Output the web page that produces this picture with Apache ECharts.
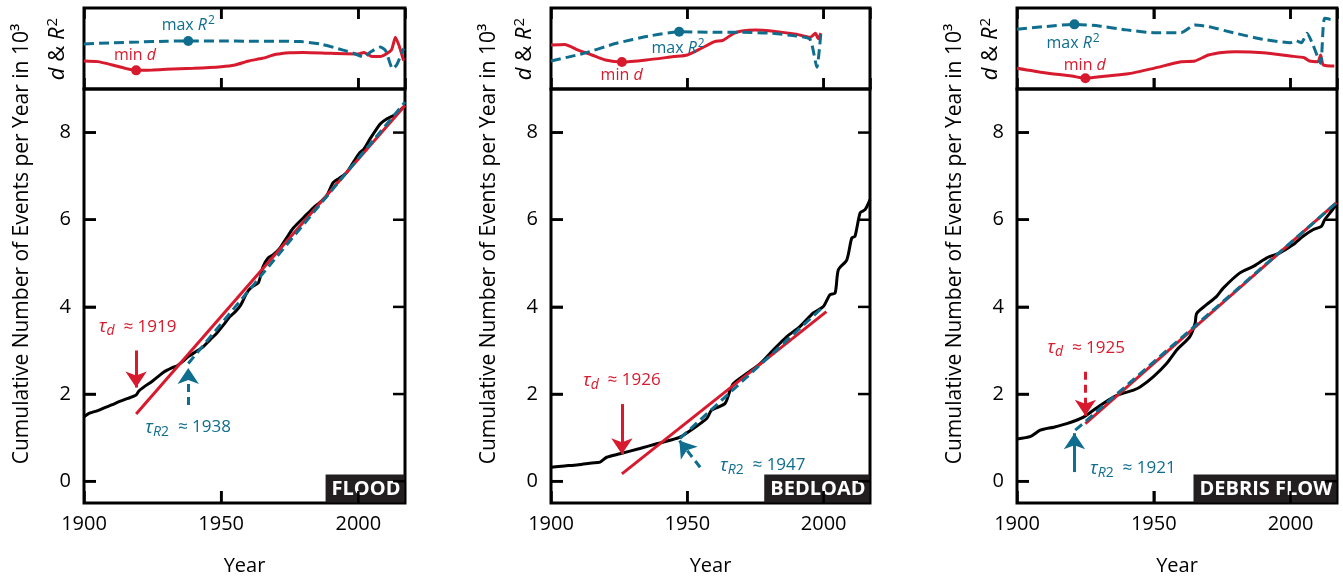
<!DOCTYPE html>
<html>
<head>
<meta charset="utf-8">
<script src="https://cdn.jsdelivr.net/npm/echarts@6/dist/echarts.min.js"></script>
<style>
  html, body { margin: 0; padding: 0; background: #fff; }
  #chart { width: 1343px; height: 578px; }
</style>
</head>
<body>
<div id="chart"></div>
<script>
var RED = '#d71a2d'
var BLUE = '#0f6d8e'
var FONT = 'Open Sans'

var yearMin = 1900
var yearMax = 2017
var xTickYears = [1950, 2000]
var yTicks = [0, 2, 4, 6, 8]
var panelNames = ['FLOOD', 'BEDLOAD', 'DEBRIS FLOW']

// cumulative number of events (10^3)
var floodYears = [1900, 1902, 1905, 1908, 1910, 1913, 1916, 1919, 1920, 1922, 1925, 1929, 1932, 1934, 1936, 1938, 1941, 1943.5, 1946, 1948.3, 1951, 1953.2, 1955, 1956.8, 1958, 1959.3, 1961, 1963.5, 1964.5, 1965.3, 1967.1, 1969, 1971.4, 1973.8, 1976.3, 1979.9, 1983.5, 1986, 1988.4, 1990.8, 1993, 1995.7, 1998, 2000.5, 2002, 2004.2, 2006.6, 2008, 2010.3, 2013, 2015, 2017]
var floodCum = [1.48, 1.56, 1.62, 1.70, 1.75, 1.83, 1.90, 1.98, 2.07, 2.17, 2.30, 2.50, 2.60, 2.65, 2.75, 2.86, 2.98, 3.09, 3.25, 3.39, 3.60, 3.78, 3.88, 4.01, 4.15, 4.32, 4.45, 4.55, 4.75, 4.93, 5.12, 5.20, 5.35, 5.58, 5.81, 6.04, 6.27, 6.40, 6.54, 6.85, 6.95, 7.08, 7.30, 7.54, 7.62, 7.85, 8.08, 8.20, 8.31, 8.40, 8.50, 8.62]

var bedloadYears = [1900, 1905, 1910, 1915, 1918, 1920.4, 1925.3, 1932.6, 1938.8, 1943.7, 1947.3, 1952.2, 1957.1, 1958.9, 1963.8, 1965.7, 1966.9, 1971.8, 1976.7, 1981.5, 1986.5, 1991.3, 1996.2, 1999.9, 2002.3, 2004.2, 2005.4, 2008.5, 2010.3, 2011.5, 2013.4, 2015.2, 2017]
var bedloadCum = [0.32, 0.35, 0.38, 0.42, 0.44, 0.55, 0.63, 0.75, 0.86, 0.94, 1.01, 1.21, 1.44, 1.63, 1.78, 2.09, 2.24, 2.47, 2.70, 3.01, 3.32, 3.55, 3.86, 4.01, 4.28, 4.32, 4.85, 5.08, 5.58, 5.62, 6.16, 6.23, 6.46]

var debrisYears = [1900, 1905, 1908.5, 1913.4, 1918.2, 1924.3, 1930.4, 1936.5, 1942.6, 1945, 1949.9, 1954.7, 1958.4, 1963.2, 1965.1, 1965.7, 1969.3, 1973, 1975.4, 1981.5, 1986.4, 1991.2, 1996.1, 2001, 2004.6, 2008.2, 2011.3, 2012.5, 2015, 2016.8]
var debrisCum = [0.97, 1.03, 1.17, 1.24, 1.32, 1.47, 1.74, 1.97, 2.09, 2.16, 2.40, 2.70, 3.01, 3.32, 3.62, 3.85, 4.05, 4.24, 4.43, 4.78, 4.93, 5.12, 5.24, 5.43, 5.62, 5.77, 5.85, 6.00, 6.20, 6.35]

// fitted lines [start, end]
var floodFitD = [[1919, 1.54], [2017, 8.62]]
var floodFitR2 = [[1938, 2.70], [2017, 8.70]]
var bedloadFitD = [[1926, 0.17], [2001, 3.89]]
var bedloadFitR2 = [[1947.3, 0.98], [2000, 4.01]]
var debrisFitD = [[1925, 1.32], [2016.8, 6.39]]
var debrisFitR2 = [[1921.3, 1.17], [2016.8, 6.39]]

// change points
var tauD = [1919, 1926, 1925]
var tauR2 = [1938, 1947, 1921]

// d and R^2 (relative scale)
var floodDYears = [1900, 1905, 1910, 1915, 1919, 1925, 1930, 1940, 1950, 1955, 1960, 1965, 1970, 1975, 1980, 1990, 2000, 2002, 2005, 2008, 2012, 2013.5, 2015, 2016.5]
var floodD = [0.346, 0.338, 0.30, 0.255, 0.23, 0.235, 0.243, 0.255, 0.275, 0.296, 0.346, 0.379, 0.428, 0.448, 0.452, 0.44, 0.432, 0.45, 0.40, 0.40, 0.48, 0.64, 0.52, 0.35]
var floodR2Years = [1900, 1910, 1920, 1930, 1938, 1950, 1960, 1970, 1979, 1986, 1994.5, 1998, 2002, 2004.4, 2008, 2010, 2012.5, 2014, 2016.5]
var floodR2 = [0.556, 0.57, 0.58, 0.59, 0.593, 0.593, 0.59, 0.59, 0.585, 0.556, 0.48, 0.444, 0.395, 0.457, 0.518, 0.47, 0.25, 0.30, 0.50]

var bedloadDYears = [1900, 1905, 1910, 1915, 1920, 1926, 1935, 1945, 1950, 1955, 1960, 1963, 1967, 1970, 1975, 1980, 1990, 1995, 1997, 1998, 1999]
var bedloadD = [0.543, 0.55, 0.48, 0.42, 0.358, 0.333, 0.358, 0.40, 0.42, 0.50, 0.584, 0.60, 0.687, 0.716, 0.728, 0.72, 0.675, 0.638, 0.687, 0.62, 0.69]
var bedloadR2Years = [1900, 1912, 1924, 1936, 1947, 1960, 1970, 1980, 1990, 1995, 1997.5, 1999]
var bedloadR2 = [0.346, 0.44, 0.564, 0.654, 0.707, 0.70, 0.70, 0.69, 0.654, 0.613, 0.27, 0.70]

var debrisDYears = [1900, 1910, 1920, 1925, 1930, 1940, 1950, 1960, 1965, 1970, 1975, 1980, 1990, 2000, 2005, 2007, 2010, 2011, 2012, 2016]
var debrisD = [0.255, 0.20, 0.16, 0.132, 0.152, 0.185, 0.255, 0.337, 0.345, 0.42, 0.452, 0.46, 0.448, 0.407, 0.386, 0.345, 0.337, 0.42, 0.296, 0.284]
var debrisR2Years = [1900, 1910, 1921, 1930, 1940, 1950, 1960, 1965, 1970, 1980, 1990, 2000, 2002, 2004, 2006, 2008, 2011, 2012.5, 2016]
var debrisR2 = [0.737, 0.77, 0.798, 0.778, 0.73, 0.695, 0.695, 0.79, 0.77, 0.687, 0.613, 0.572, 0.597, 0.572, 0.687, 0.564, 0.317, 0.872, 0.85]

function zip(xs, ys) {
  return xs.map(function (x, i) { return [x, ys[i]] })
}
function valueAt(xs, ys, x) {
  for (var i = 0; i < xs.length; i++) if (xs[i] === x) return ys[i]
  return ys[0]
}

var panels = [
  { left: 84, width: 321, years: floodYears, cum: floodCum, fitD: floodFitD, fitR2: floodFitR2,
    dYears: floodDYears, d: floodD, r2Years: floodR2Years, r2: floodR2,
    arrowD: [[tauD[0], 3.0], [tauD[0], 2.15]], arrowR2: [[tauR2[0], 1.75], [tauR2[0], 2.6]],
    dashD: false, dashR2: true,
    labD: [1919.5, 3.54], labR2: [1937.9, 1.24], labMax: [1938, 0.79], labMin: [1918.6, 0.42] },
  { left: 551, width: 319, years: bedloadYears, cum: bedloadCum, fitD: bedloadFitD, fitR2: bedloadFitR2,
    dYears: bedloadDYears, d: bedloadD, r2Years: bedloadR2Years, r2: bedloadR2,
    arrowD: [[tauD[1], 1.77], [tauD[1], 0.62]], arrowR2: [[1954.7, 0.32], [tauR2[1] + 0.1, 0.93]],
    dashD: false, dashR2: true,
    labD: [1925.9, 2.32], labR2: [1977.6, 0.36], labMax: [1946.6, 0.506], labMin: [1925.9, 0.173] },
  { left: 1017, width: 320, years: debrisYears, cum: debrisCum, fitD: debrisFitD, fitR2: debrisFitR2,
    dYears: debrisDYears, d: debrisD, r2Years: debrisR2Years, r2: debrisR2,
    arrowD: [[tauD[2], 2.51], [tauD[2], 1.5]], arrowR2: [[tauR2[2], 0.21], [tauR2[2], 1.1]],
    dashD: true, dashR2: false,
    labD: [1925.2, 3.06], labR2: [1942.3, 0.29], labMax: [1920.5, 0.568], labMin: [1924.8, 0.296] }
]

var TOP_H = 81, MAIN_H = 414
var grids = [], xAxes = [], yAxes = [], series = [], graphics = []

var richMain = function (color) {
  return {
    t: { fontSize: 19, fontStyle: 'italic', fontFamily: FONT, color: color },
    s: { fontSize: 14, fontStyle: 'italic', fontFamily: FONT, color: color, padding: [9, 0, 0, 0] },
    s2: { fontSize: 14, fontFamily: FONT, color: color, padding: [9, 0, 0, 0] },
    n: { fontSize: 17, fontFamily: FONT, color: color }
  }
}
var richTop = function (color) {
  return {
    n: { fontSize: 16, fontFamily: FONT, color: color },
    i: { fontSize: 16, fontStyle: 'italic', fontFamily: FONT, color: color },
    sup: { fontSize: 12, fontFamily: FONT, color: color, padding: [0, 0, 9, 1] }
  }
}

function textPoint(pos, text, rich) {
  return {
    value: pos,
    label: { show: true, position: 'inside', formatter: text, rich: rich }
  }
}

function tick(len) {
  return { show: true, inside: true, length: len, lineStyle: { color: '#000', width: 2.5 } }
}

panels.forEach(function (p, i) {
  var gridBase = { left: p.left, width: p.width, show: true, borderColor: '#000', borderWidth: 3,
    backgroundColor: 'transparent', outerBoundsMode: 'none' }
  grids.push(Object.assign({}, gridBase, { top: 8, height: TOP_H }))
  grids.push(Object.assign({}, gridBase, { top: 89, height: MAIN_H }))

  var gTop = 2 * i, gMain = 2 * i + 1
  function xAxis(extra) {
    return Object.assign({ type: 'value', min: yearMin, max: yearMax, interval: 50,
      splitLine: { show: false }, axisLine: { show: false, onZero: false } }, extra)
  }
  xAxes.push(xAxis({ gridIndex: gTop, position: 'bottom', axisTick: tick(11), axisLabel: { show: false } }))
  xAxes.push(xAxis({ gridIndex: gTop, position: 'top', axisTick: tick(11), axisLabel: { show: false } }))
  xAxes.push(xAxis({
    gridIndex: gMain, position: 'bottom',
    axisTick: tick(12),
    axisLabel: { fontSize: 20, fontFamily: FONT, color: '#000', margin: 11, showMaxLabel: false,
      formatter: function (v) { return String(v) } },
    name: 'Year', nameLocation: 'middle', nameGap: 53,
    nameTextStyle: { fontSize: 20, fontFamily: FONT, color: '#000' }
  }))

  yAxes.push({ gridIndex: gTop, type: 'value', min: 0, max: 1, show: false })
  function yAxis(extra) {
    return Object.assign({ gridIndex: gMain, type: 'value', min: -0.5, max: 9,
      splitLine: { show: false }, axisLine: { show: false, onZero: false } }, extra)
  }
  var leftTick = tick(12)
  leftTick.customValues = yTicks
  yAxes.push(yAxis({
    position: 'left', axisTick: leftTick,
    axisLabel: { fontSize: 20, fontFamily: FONT, color: '#000', margin: 13, customValues: yTicks }
  }))
  yAxes.push(yAxis({ position: 'right', axisTick: { show: false }, axisLabel: { show: false } }))

  var xTop = 3 * i, xMain = 3 * i + 2, yTop = 3 * i, yMain = 3 * i + 1

  // top panel: d and R^2
  series.push({ type: 'line', xAxisIndex: xTop, yAxisIndex: yTop, data: zip(p.dYears, p.d), showSymbol: false, smooth: 0.2,
    lineStyle: { color: RED, width: 3 }, z: 3 })
  series.push({ type: 'line', xAxisIndex: xTop, yAxisIndex: yTop, data: zip(p.r2Years, p.r2), showSymbol: false, smooth: 0.2,
    lineStyle: { color: BLUE, width: 3, type: [10, 5] }, z: 3 })
  series.push({ type: 'scatter', xAxisIndex: xTop, yAxisIndex: yTop, symbolSize: 10, z: 5,
    data: [
      { value: [tauD[i], valueAt(p.dYears, p.d, tauD[i])], itemStyle: { color: RED, opacity: 1 } },
      { value: [tauR2[i], valueAt(p.r2Years, p.r2, tauR2[i])], itemStyle: { color: BLUE, opacity: 1 } }
    ] })
  series.push({ type: 'scatter', xAxisIndex: xTop, yAxisIndex: yTop, symbolSize: 1, itemStyle: { color: 'transparent', opacity: 1 }, z: 6,
    data: [
      textPoint(p.labMax, '{n|max }{i|R}{sup|2}', richTop(BLUE)),
      textPoint(p.labMin, '{n|min }{i|d}', richTop(RED))
    ] })

  // main panel
  series.push({ type: 'line', xAxisIndex: xMain, yAxisIndex: yMain, data: zip(p.years, p.cum), showSymbol: false, smooth: 0.25,
    lineStyle: { color: '#000', width: 3 }, z: 2 })
  series.push({ type: 'line', xAxisIndex: xMain, yAxisIndex: yMain, data: p.fitD, showSymbol: false,
    lineStyle: { color: RED, width: 3 }, z: 3,
    markLine: { silent: true, symbol: ['none', 'arrow'], symbolSize: 16, label: { show: false },
      lineStyle: { color: RED, width: 3, type: p.dashD ? [8, 5] : 'solid' },
      data: [[{ coord: p.arrowD[0] }, { coord: p.arrowD[1] }]] } })
  series.push({ type: 'line', xAxisIndex: xMain, yAxisIndex: yMain, data: p.fitR2, showSymbol: false,
    lineStyle: { color: BLUE, width: 3, type: [9, 5] }, z: 4,
    markLine: { silent: true, symbol: ['none', 'arrow'], symbolSize: 16, label: { show: false },
      lineStyle: { color: BLUE, width: 3, type: p.dashR2 ? [8, 5] : 'solid' },
      data: [[{ coord: p.arrowR2[0] }, { coord: p.arrowR2[1] }]] } })
  series.push({ type: 'scatter', xAxisIndex: xMain, yAxisIndex: yMain, symbolSize: 1, itemStyle: { color: 'transparent', opacity: 1 }, z: 6, clip: false,
    data: [
      textPoint(p.labD, '{t|τ}{s|d}{n|  ≈ ' + tauD[i] + '}', richMain(RED)),
      textPoint(p.labR2, '{t|τ}{s|R}{s2|2}{n|  ≈ ' + tauR2[i] + '}', richMain(BLUE)),
      {
        value: [yearMax, -0.5],
        label: { show: true, position: [0, 0], align: 'right', verticalAlign: 'bottom', formatter: panelNames[i],
          backgroundColor: '#231f20', color: '#fff', fontWeight: 'bold', fontSize: 20, fontFamily: FONT, padding: [5, 4, 3, 6] }
      }
    ] })

  graphics.push({ type: 'text', x: p.left - 62, y: 244, rotation: Math.PI / 2,
    style: { text: 'Cumulative Number of Events per Year in 10³', fontSize: 21, fontFamily: FONT, fill: '#000', align: 'center', verticalAlign: 'middle' } })
  graphics.push({ type: 'text', x: p.left - 26, y: 49, rotation: Math.PI / 2,
    style: { text: '{i|d}{n| & }{i|R}{sup|2}', align: 'center', verticalAlign: 'middle',
      rich: {
        i: { fontSize: 22, fontStyle: 'italic', fontFamily: FONT, fill: '#000' },
        n: { fontSize: 22, fontFamily: FONT, fill: '#000' },
        sup: { fontSize: 15, fontFamily: FONT, fill: '#000', padding: [0, 0, 11, 1] }
      } } })
})

var chart = echarts.init(document.getElementById('chart'))
chart.setOption({
  animation: false,
  backgroundColor: '#fff',
  grid: grids,
  xAxis: xAxes,
  yAxis: yAxes,
  series: series,
  graphic: graphics
})

// inward tick marks placed through the axes' own scales
function tickLine(a, b) {
  return { type: 'line', silent: true, z: 100,
    shape: { x1: a[0], y1: a[1], x2: b[0], y2: b[1] },
    style: { stroke: '#000', lineWidth: 2.5 } }
}
var tickGraphics = []
panels.forEach(function (p, i) {
  var gTop = { gridIndex: 2 * i }, gMain = { gridIndex: 2 * i + 1 }
  xTickYears.forEach(function (x) {
    var t = chart.convertToPixel(gTop, [x, 1])
    var b = chart.convertToPixel(gTop, [x, 0])
    var m = chart.convertToPixel(gMain, [x, -0.5])
    tickGraphics.push(tickLine(t, [t[0], t[1] + 11]))
    tickGraphics.push(tickLine(b, [b[0], b[1] - 11]))
    tickGraphics.push(tickLine(m, [m[0], m[1] - 12]))
  })
  yTicks.forEach(function (y) {
    var l = chart.convertToPixel(gMain, [yearMin, y])
    var r = chart.convertToPixel(gMain, [yearMax, y])
    tickGraphics.push(tickLine(l, [l[0] + 12, l[1]]))
    tickGraphics.push(tickLine(r, [r[0] - 12, r[1]]))
  })
})
chart.setOption({ graphic: graphics.concat(tickGraphics) })
</script>
</body>
</html>
